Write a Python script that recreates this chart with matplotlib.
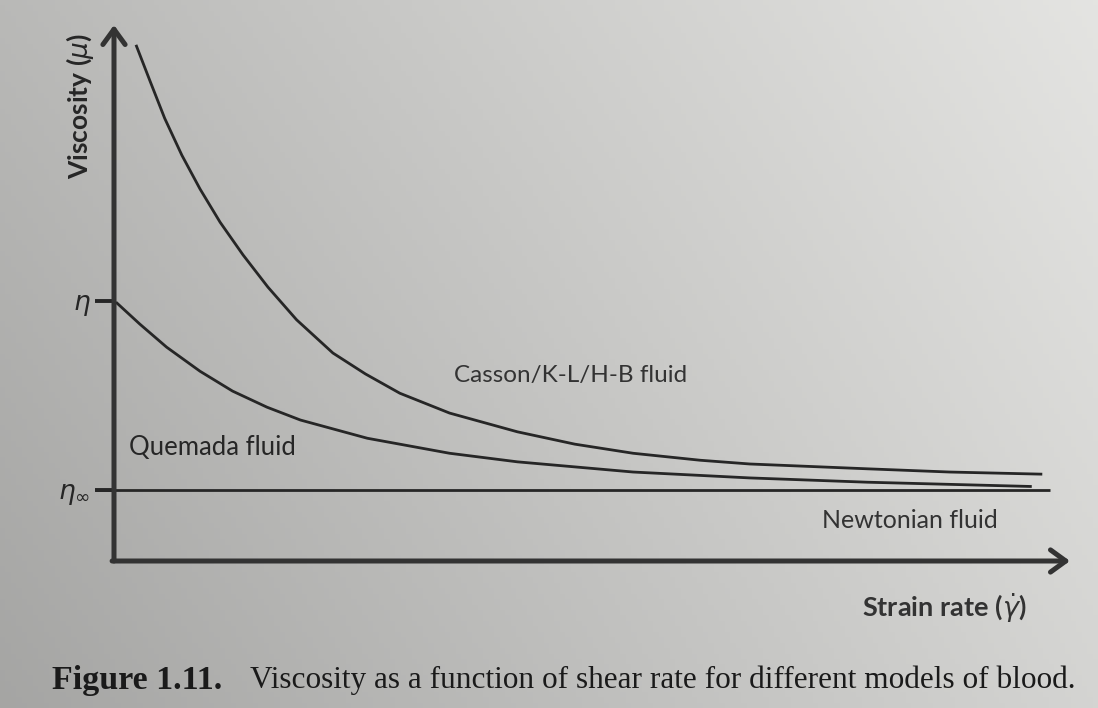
import matplotlib.pyplot as plt
import numpy as np

# curves (strain rate, viscosity) in arbitrary units
casson_x = [0.23, 0.38, 0.53, 0.71, 0.90, 1.11, 1.35, 1.61, 1.91, 2.29, 2.63, 2.99,
            3.51, 4.22, 4.82, 5.43, 6.13, 6.65, 7.88, 8.74, 9.71]
casson_y = [9.63, 8.94, 8.26, 7.57, 6.94, 6.32, 5.71, 5.11, 4.50, 3.88, 3.49, 3.13,
            2.76, 2.41, 2.18, 2.01, 1.88, 1.81, 1.72, 1.66, 1.62]

quemada_x = [0.02, 0.27, 0.55, 0.90, 1.24, 1.60, 1.95, 2.65, 3.51, 4.22, 5.43, 6.65,
             7.88, 9.60]
quemada_y = [4.83, 4.42, 3.99, 3.54, 3.17, 2.87, 2.63, 2.29, 2.01, 1.85, 1.66, 1.55,
             1.47, 1.39]

eta_0 = 4.85
eta_inf = 1.33
newton_x = [-0.2, 9.79]

ink = "#262626"
fig = plt.figure(figsize=(10.98, 7.08), dpi=100)

# photographed page: uneven grey paper
bg = fig.add_axes([0, 0, 1, 1])
corners = np.array([[185.0, 228.0], [165.0, 212.0]]) / 255
gx = np.linspace(0, 1, 200)
gy = np.linspace(0, 1, 130)[:, None]
top = corners[0, 0] + (corners[0, 1] - corners[0, 0]) * gx
bot = corners[1, 0] + (corners[1, 1] - corners[1, 0]) * gx
shade = top * (1 - gy) + bot * gy
bg.imshow(np.dstack([shade, shade, shade * 0.99]), aspect="auto", extent=[0, 1, 0, 1])
bg.axis("off")

ax = fig.add_axes([114 / 1098, (708 - 561) / 708, (1070 - 114) / 1098, (561 - 25) / 708])
ax.set_xlim(0, 10)
ax.set_ylim(0, 10)
ax.patch.set_alpha(0)
for s in ax.spines.values():
    s.set_visible(False)
ax.set_xticks([])
ax.set_yticks([eta_0, eta_inf], [r"$\eta$", r"$\eta_{\infty}$"])
ax.tick_params(axis="y", length=14, width=2.8, color=ink, labelsize=19, labelcolor=ink, pad=3)

# axes with open arrow heads
arrow = dict(arrowstyle="->,head_length=1.1,head_width=0.8", lw=3.6, color="#333333",
             shrinkA=0, shrinkB=0)
ax.annotate("", xy=(0, 1.0), xytext=(0, 0), xycoords="axes fraction", arrowprops=arrow,
            annotation_clip=False)
ax.annotate("", xy=(1.0, 0), xytext=(-0.002, 0), xycoords="axes fraction", arrowprops=arrow,
            annotation_clip=False)

line = dict(color=ink, lw=2.0, solid_capstyle="butt", solid_joinstyle="round", clip_on=False)
ax.plot(casson_x, casson_y, **line)
ax.plot(quemada_x, quemada_y, **line)
ax.plot(newton_x, [eta_inf, eta_inf], **line)

font = "Lato"
ax.text(4.78, 3.47, "Casson/K-L/H-B fluid", fontsize=17.5, family=font, color="#333333",
        ha="center", va="center")
ax.text(1.03, 2.11, "Quemada fluid", fontsize=18.5, family=font, color=ink,
        ha="center", va="center")
ax.text(8.32, 0.75, "Newtonian fluid", fontsize=18, family=font, color="#333333",
        ha="center", va="center")
ax.text(8.68, -0.88, r"Strain rate ($\dot{\gamma}$)", fontsize=19.5, family=font,
        fontweight="bold", color="#333333", ha="center", va="center")
ax.text(-0.36, 8.49, r"Viscosity ($\mu$)", fontsize=19, family=font, fontweight="bold",
        color=ink, ha="center", va="center", rotation=90)

fig.text(52 / 1098, 1 - 680 / 708, "Figure 1.11.", fontsize=24.5, family="Liberation Serif",
         fontweight="bold", color="#1a1a1a", ha="left", va="center")
fig.text(250 / 1098, 1 - 680 / 708,
         "Viscosity as a function of shear rate for different models of blood.",
         fontsize=22.5, family="Liberation Serif", color="#1a1a1a", ha="left", va="center")

fig.savefig("out.png", dpi=100)
